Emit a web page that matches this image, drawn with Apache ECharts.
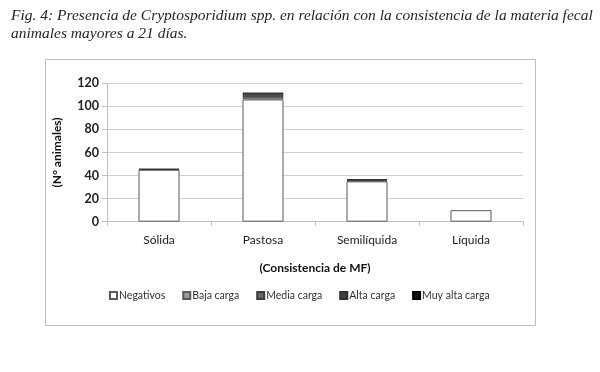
<!DOCTYPE html>
<html>
<head>
<meta charset="utf-8">
<script src="https://cdn.jsdelivr.net/npm/echarts@6/dist/echarts.min.js"></script>
<style>html,body{margin:0;padding:0;background:#fff;}#c{width:600px;height:372px;}</style>
</head>
<body>
<div id="c"></div>
<script>
const categories = ['Sólida', 'Pastosa', 'Semilíquida', 'Líquida'];
const seriesNames = ['Negativos', 'Baja carga', 'Media carga', 'Alta carga', 'Muy alta carga'];
const negativos = [45, 106, 35, 10];
const bajaCarga = [0, 2, 0, 0];
const mediaCarga = [0, 2, 1, 0];
const altaCarga = [1, 2, 1, 0];
const muyAltaCarga = [0, 0, 0, 0];
const yTicks = [0, 20, 40, 60, 80, 100, 120];

const values = [negativos, bajaCarga, mediaCarga, altaCarga, muyAltaCarga];
const colors = ['#ffffff', '#9a9a9a', '#666666', '#404040', '#111111'];
const borders = ['#595959', '#595959', '#404040', '#303030', '#000000'];

const chart = echarts.init(document.getElementById('c'), null, {renderer: 'canvas'});
const font = 'Lato, "Open Sans", sans-serif';
chart.setOption({
  animation: false,
  backgroundColor: '#fff',
  title: {
    text: 'Fig. 4: Presencia de Cryptosporidium spp. en relación con la consistencia de la materia fecal\nanimales mayores a 21 días.',
    left: 6, top: 2,
    textStyle: {fontFamily: '"Liberation Serif", serif', fontStyle: 'italic', fontWeight: 'normal', fontSize: 15.5, color: '#231f20', lineHeight: 18}
  },
  graphic: [{
    type: 'rect', shape: {x: 45.5, y: 59.5, width: 490, height: 266},
    style: {fill: 'none', stroke: '#bfbfbf', lineWidth: 1}, z: -1
  }],
  legend: {
    data: seriesNames,
    left: 104, top: 285,
    icon: 'rect', itemWidth: 7, itemHeight: 7, itemGap: 17,
    textStyle: {fontFamily: font, fontSize: 10.5, color: '#333', padding: [0, 0, 0, -3]}
  },
  grid: {left: 107, right: 77, top: 83.3, bottom: 150.3},
  xAxis: {
    type: 'category', data: categories,
    name: '(Consistencia de MF)', nameLocation: 'middle', nameGap: 40,
    nameTextStyle: {fontFamily: font, fontWeight: 'bold', fontSize: 12, color: '#111'},
    axisLine: {lineStyle: {color: '#bfbfbf'}},
    axisTick: {show: true, length: 4, lineStyle: {color: '#bfbfbf'}},
    axisLabel: {fontFamily: font, fontSize: 12, color: '#222', margin: 12}
  },
  yAxis: {
    type: 'value', min: yTicks[0], max: yTicks[yTicks.length - 1], interval: 20,
    name: '(N° animales)', nameLocation: 'middle', nameGap: 44, nameRotate: 90,
    nameTextStyle: {fontFamily: font, fontWeight: 'bold', fontSize: 12, color: '#111'},
    axisLine: {show: true, lineStyle: {color: '#bfbfbf'}},
    axisTick: {show: true, length: 5, lineStyle: {color: '#bfbfbf'}},
    axisLabel: {fontFamily: font, fontWeight: 'bold', fontSize: 12.5, color: '#222', margin: 8},
    splitLine: {lineStyle: {color: '#d0d0d0'}}
  },
  series: seriesNames.map((n, i) => ({
    name: n, type: 'bar', stack: 'total', barWidth: 41,
    data: values[i].map(v => (v === 0 ? '-' : v)),
    itemStyle: {color: colors[i], borderColor: borders[i], borderWidth: 1}
  }))
});
</script>
</body>
</html>
